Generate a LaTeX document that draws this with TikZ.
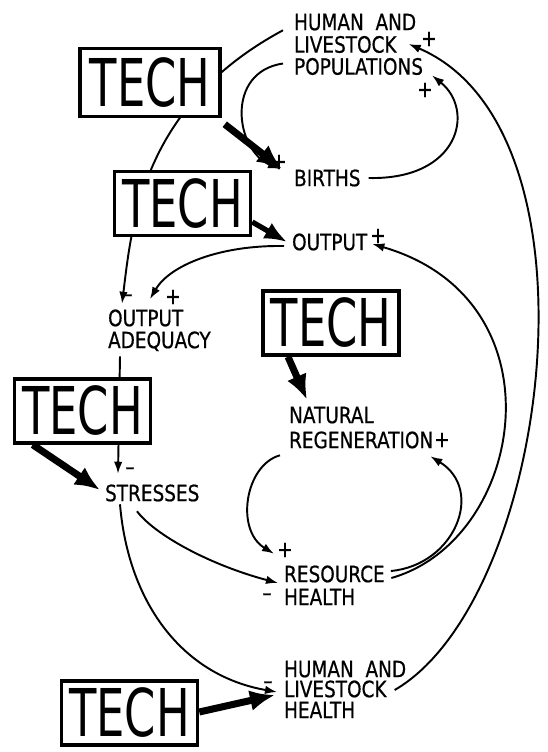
\documentclass[tikz,border=0pt]{standalone}
\usepackage{fontspec}
\newfontfamily\lblfont[FakeStretch=0.82,FakeBold=0.6]{DejaVu Sans}
\newfontfamily\techfont[FakeStretch=0.68]{DejaVu Sans}
\usetikzlibrary{arrows.meta}
\begin{document}
\begin{tikzpicture}[x=2mm, y=2mm]
\tikzset{ >={Latex[length=2.4mm,width=1.7mm]},
  tech/.style={draw, line width=2pt, fill=white, minimum width=2.72cm, minimum height=1.28cm, inner sep=0pt, font=\techfont\fontsize{37.5}{40}\selectfont},
  lbl/.style={anchor=west, inner sep=1pt, text height=9.3pt, text depth=0pt, font=\lblfont\fontsize{12.8}{13}\selectfont},
  sgn/.style={inner sep=0pt, font=\lblfont\fontsize{12.8}{13}\selectfont},
  flow/.style={line width=1.1pt},
  push/.style={line width=4pt, -{Latex[length=5mm,width=4.2mm]}},
}

%\draw [lightgray, dashed] (0,0) grid (54.7,-75.2);
\useasboundingbox (0,0) rectangle (54.7,-75.2);

\node [lbl] (popA) at (29.2,-2.2) {HUMAN\ \ AND};
\node [lbl] (popB) at (29.2,-4.45) {LIVESTOCK};
\node [lbl] (popC) at (29.2,-6.65) {POPULATIONS};
\node [lbl] (births) at (29.2,-17.8) {BIRTHS};
\node [lbl] (output) at (29.0,-24.2) {OUTPUT};
\node [lbl] (adqA) at (10.6,-31.8) {OUTPUT};
\node [lbl] (adqB) at (10.6,-34.0) {ADEQUACY};
\node [lbl] (natA) at (28.7,-41.5) {NATURAL};
\node [lbl] (natB) at (28.7,-44.0) {REGENERATION};
\node [lbl] (stress) at (10.3,-49.3) {STRESSES};
\node [lbl] (resA) at (28.2,-57.4) {RESOURCE};
\node [lbl] (resB) at (28.2,-59.7) {HEALTH};
\node [lbl] (hlhA) at (28.2,-66.9) {HUMAN\ \ AND};
\node [lbl] (hlhB) at (28.2,-68.9) {LIVESTOCK};
\node [lbl] (hlhC) at (28.2,-71.0) {HEALTH};

% thin links, drawn before the boxes so that these cover them
\draw [flow, ->] ([shift={(-0.9,0.2)}]popA.south west) .. controls (14.2,-10.6) and (13.2,-22.3) .. ([shift={(1.6,0.4)}]adqA.north west);
\draw [flow, ->] ([shift={(-0.9,0.3)}]popC.west) .. controls (22.5,-7.2) and (23.5,-15.0) .. ([shift={(-1.2,0.9)}]births.west);
\draw [flow, ->] ([shift={(0.6,0)}]births.east) .. controls (46,-18) and (47.5,-11) .. ([shift={(0.7,-0.9)}]popC.east);
\draw [flow, ->] ([shift={(0.6,-0.1)}]hlhB.east) .. controls (55,-60) and (61,-13) .. ([shift={(1.0,0.05)}]popB.east);
\draw [flow, ->] ([shift={(0.45,-0.4)}]resA.east) .. controls (52.5,-54) and (56.5,-30) .. ([shift={(0.3,-0.2)}]output.east);
\draw [flow, ->] ([shift={(-0.6,-0.4)}]output.west) .. controls (22,-24.5) and (17,-26.5) .. ([shift={(4.4,0.87)}]adqA.north west);
\draw [flow, ->] ([shift={(1.4,-0.6)}]adqB.south west) -- ([shift={(1.5,0.9)}]stress.north west);
\draw [flow, ->] ([shift={(3.4,-0.8)}]stress.south west) .. controls (15.5,-53.5) and (21,-56.5) .. ([shift={(-0.4,-0.9)}]resA.west);
\draw [flow, ->] ([shift={(1.7,-0.1)}]stress.south west) .. controls (12.8,-60) and (18,-67.5) .. ([shift={(-0.5,-0.3)}]hlhB.west);
\draw [flow, ->] ([shift={(-0.7,-0.5)}]natB.south west) .. controls (24.5,-46.5) and (23.5,-53) .. ([shift={(-0.8,1.0)}]resA.north west);
\draw [flow, ->] ([shift={(0.4,0.3)}]resA.east) .. controls (45.5,-56.5) and (48.5,-49) .. ([shift={(-0.5,-0.6)}]natB.south east);

\node [tech, minimum width=2.8cm, minimum height=1.36cm] (tech1) at (15.0,-8.25) {TECH};
\node [tech] (tech2) at (18.25,-20.35) {TECH};
\node [tech] (tech3) at (33.1,-32.3) {TECH};
\node [tech] (tech4) at (8.25,-41.1) {TECH};
\node [tech] (tech5) at (12.95,-71.3) {TECH};

\draw [push] ([shift={(0.3,-0.6)}]tech1.south east) -- ([shift={(-1.0,0.9)}]births.west);
\draw [push, line width=3pt, -{Latex[length=4.5mm,width=3.6mm]}] ([yshift=-3.7mm]tech2.east) -- ([xshift=-0.6mm]output.west);
\draw [push] ([xshift=-8.6mm]tech3.south) -- ([shift={(2.0,0.5)}]natA.north west);
\draw [push] ([xshift=4mm]tech4.south west) -- ([shift={(-0.3,0.3)}]stress.west);
\draw [push] ([yshift=0.2mm]tech5.east) -- ([shift={(-0.7,-0.6)}]hlhB.west);

\node [sgn] (sA) at (42.9,-3.9) {+};
\node [sgn] (sB) at (42.5,-9.0) {+};
\node [sgn] (sC) at (27.9,-16.2) {+};
\node [sgn] (sD) at (37.8,-23.6) {+};
\node [sgn] (sE) at (12.8,-29.8) {\textendash};
\node [sgn] (sF) at (17.3,-29.7) {+};
\node [sgn] (sG) at (13.0,-47.1) {\textendash};
\node [sgn] (sH) at (44.2,-44.0) {+};
\node [sgn] (sI) at (28.5,-55.0) {+};
\node [sgn] (sJ) at (26.7,-59.7) {\textendash};
\node [sgn] (sK) at (26.8,-68.5) {\textendash};

\end{tikzpicture}
\end{document}
